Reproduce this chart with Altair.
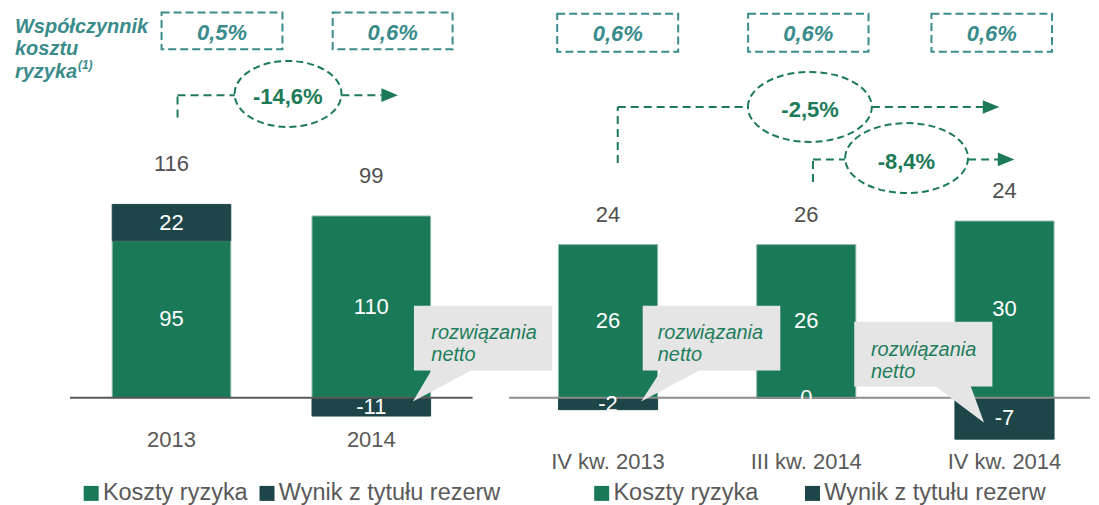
import altair as alt
import pandas as pd

# ---------------- data ----------------
years = ["2013", "2014"]
years_costs = [95, 110]
years_reserves = [22, -11]
years_totals = [116, 99]
years_ratio = ["0,5%", "0,6%"]
years_change = ["-14,6%"]

quarters = ["IV kw. 2013", "III kw. 2014", "IV kw. 2014"]
quarters_costs = [26, 26, 30]
quarters_reserves = [-2, 0, -7]
quarters_totals = [24, 26, 24]
quarters_ratio = ["0,6%", "0,6%", "0,6%"]
quarters_change = ["-2,5%", "-8,4%"]

series_names = ["Koszty ryzyka", "Wynik z tytułu rezerw"]
ratio_title = ["Współczynnik", "kosztu", "ryzyka"]
ratio_note = "(1)"
callout_lines = ["rozwiązania", "netto"]

# ---------------- styles ----------------
GREEN = "#1a7a58"
GREEN_EDGE = "#8fb9aa"
DARK = "#1e4648"
TEAL = "#3a8b8b"
ARROW = "#1c7a57"
CALLOUT_FILL = "#e5e5e5"
CALLOUT_TEXT = "#1f7d5c"
GRAY_TEXT = "#595959"
FONT = "Liberation Sans"
H = 497
ZERO = 390

one = pd.DataFrame({"k": [0]})


def stack_frame(cats, costs, reserves):
    rows = []
    for c, k, w in zip(cats, costs, reserves):
        rows.append({"cat": c, "series": series_names[0], "value": k, "lo": 0, "hi": k})
        if w > 0:
            rows.append({"cat": c, "series": series_names[1], "value": w, "lo": k, "hi": k + w})
        else:
            rows.append({"cat": c, "series": series_names[1], "value": w, "lo": w, "hi": 0})
    df = pd.DataFrame(rows)
    df["mid"] = (df["lo"] + df["hi"]) / 2
    df["label"] = df["value"].map(str)
    return df


def total_frame(cats, costs, reserves, totals):
    return pd.DataFrame({
        "cat": cats,
        "top": [k + max(w, 0) for k, w in zip(costs, reserves)],
        "total": [str(t) for t in totals],
    })


def hrule(x1, x2, y, color, dash=None, width=2):
    kw = dict(color=color, strokeWidth=width)
    if dash:
        kw["strokeDash"] = dash
    return alt.Chart(one).mark_rule(**kw).encode(x=alt.value(x1), x2=alt.value(x2), y=alt.value(y))


def vrule(x, y1, y2, color, dash=None, width=2):
    kw = dict(color=color, strokeWidth=width)
    if dash:
        kw["strokeDash"] = dash
    return alt.Chart(one).mark_rule(**kw).encode(x=alt.value(x), y=alt.value(y1), y2=alt.value(y2))


def path_mark(x, y, path, color, filled, dash=None, width=2):
    kw = dict(shape=path, size=4, filled=filled, color=color, opacity=1)
    kw["strokeWidth"] = 0 if filled else width
    if dash:
        kw["strokeDash"] = dash
    return alt.Chart(one).mark_point(**kw).encode(x=alt.value(x), y=alt.value(y))


def label(x, y, text, **kw):
    return alt.Chart(one).mark_text(text=text, font=FONT, baseline="middle", **kw).encode(
        x=alt.value(x), y=alt.value(y))


def dashed_box(x1, x2, y1, y2):
    return alt.Chart(one).mark_rect(filled=False, color=TEAL, strokeWidth=2, strokeDash=[8, 4]).encode(
        x=alt.value(x1), x2=alt.value(x2), y=alt.value(y1), y2=alt.value(y2))


def ellipse(cx, cy, rx, ry):
    p = f"M{-rx},0 A{rx},{ry} 0 1,1 {rx},0 A{rx},{ry} 0 1,1 {-rx},0 Z"
    return path_mark(cx, cy, p, ARROW, False, dash=[7, 4])


def arrow_head(cx, cy):
    return path_mark(cx, cy, "M-8.3,-6.8 L8.3,0 L-8.3,6.8 Z", ARROW, True)


def callout(x0, y0, w, h, b1, b2, tx, ty, text_x, first_line_y):
    p = f"M0,0 H{w} V{h} H{b2} L{tx},{ty} L{b1},{h} H0 Z"
    shape = path_mark(x0, y0, p, CALLOUT_FILL, True)
    txt = label(text_x, first_line_y, callout_lines, align="left", fontSize=20, fontStyle="italic",
                color=CALLOUT_TEXT, lineHeight=22)
    return [shape, txt]


def bar_layers(cats, costs, reserves, totals, xscale, yscale, legend, total_dy, cat_y):
    df = stack_frame(cats, costs, reserves)
    x = alt.X("cat:N", scale=xscale, axis=None, sort=cats)
    bars = alt.Chart(df).mark_bar(strokeWidth=1).encode(
        x=x,
        y=alt.Y("lo:Q", scale=yscale, axis=None),
        y2="hi:Q",
        color=alt.Color("series:N", scale=alt.Scale(domain=series_names, range=[GREEN, DARK]), legend=legend),
        stroke=alt.Stroke("series:N", scale=alt.Scale(domain=series_names, range=[GREEN_EDGE, DARK]), legend=None),
    )
    vals = alt.Chart(df).mark_text(color="white", fontSize=22, font=FONT, baseline="middle").encode(
        x=x, y=alt.Y("mid:Q", scale=yscale, axis=None), text="label:N")
    tdf = total_frame(cats, costs, reserves, totals)
    tots = alt.Chart(tdf).mark_text(color="#505050", fontSize=22, font=FONT, baseline="middle", dy=total_dy).encode(
        x=x, y=alt.Y("top:Q", scale=yscale, axis=None), text="total:N")
    catl = alt.Chart(pd.DataFrame({"cat": cats})).mark_text(color=GRAY_TEXT, fontSize=22, font=FONT,
                                                           baseline="middle").encode(
        x=x, y=alt.value(cat_y), text="cat:N")
    return bars, vals, tots, catl


def make_legend(lx, ly, colpad):
    return alt.Legend(title=None, orient="none", legendX=lx, legendY=ly, direction="horizontal",
                      symbolType="square", symbolSize=225, symbolStrokeWidth=0, symbolOpacity=1,
                      labelFontSize=23.5, labelFont=FONT, labelColor=GRAY_TEXT, labelLimit=400,
                      columnPadding=colpad, labelOffset=0, padding=0)


# ---------------- left panel ----------------
lx_scale = alt.Scale(domain=years, range=[104.3, 423], paddingInner=0.4065, paddingOuter=0)
ly_scale = alt.Scale(domain=[0, 100], range=[ZERO, ZERO - 165.5], nice=False, zero=False)
lb, lv, lt, lc = bar_layers(years, years_costs, years_reserves, years_totals, lx_scale, ly_scale,
                            make_legend(71.5, 473.5, 7), -40, 432)

left_layers = [
    lb,
    hrule(62, 465, ZERO, "#595959"),
    lv, lt, lc,
    label(7, 18.7, ratio_title, align="left", fontSize=20, fontWeight="bold", fontStyle="italic",
          color=TEAL, lineHeight=22.5),
    label(70, 57, ratio_note, align="left", fontSize=12, fontWeight="bold", fontStyle="italic", color=TEAL),
    dashed_box(153.7, 274.7, 4.3, 41),
    dashed_box(325, 445, 4.3, 41),
    label(214.2, 24.5, years_ratio[0], align="center", fontSize=22, fontWeight="bold", fontStyle="italic", color=TEAL),
    label(385, 24.5, years_ratio[1], align="center", fontSize=22, fontWeight="bold", fontStyle="italic", color=TEAL),
    vrule(169.7, 109.3, 87, ARROW, dash=[8, 5]),
    hrule(169.7, 227, 87, ARROW, dash=[8, 5]),
    hrule(333.7, 373.7, 87, ARROW, dash=[8, 5]),
    arrow_head(382, 87),
    ellipse(280.3, 85.8, 53.5, 33),
    label(280, 89, years_change[0], align="center", fontSize=22, fontWeight="bold", color=ARROW),
]
left_layers += callout(406.3, 297.7, 138.4, 65, 17.4, 57.4, -1, 96, 423.7, 325)
left = alt.layer(*left_layers).properties(width=492, height=H)

# ---------------- right panel ----------------
rx_scale = alt.Scale(domain=quarters, range=[59, 555], paddingInner=0.5, paddingOuter=0)
ry_scale = alt.Scale(domain=[0, 10], range=[ZERO, ZERO - 59], nice=False, zero=False)
rb, rv, rt, rc = bar_layers(quarters, quarters_costs, quarters_reserves, quarters_totals, rx_scale, ry_scale,
                            make_legend(90.5, 473.5, 42), -30, 453.7)

right_layers = [
    rb,
    hrule(9.5, 591, ZERO, "#8c8c8c"),
    rv, rt, rc,
    dashed_box(57.7, 178.8, 5.5, 43.5),
    dashed_box(248.8, 369.3, 5.5, 43.5),
    dashed_box(432.3, 553, 5.5, 43.5),
    label(118.3, 25.5, quarters_ratio[0], align="center", fontSize=22, fontWeight="bold", fontStyle="italic", color=TEAL),
    label(309, 25.5, quarters_ratio[1], align="center", fontSize=22, fontWeight="bold", fontStyle="italic", color=TEAL),
    label(492.7, 25.5, quarters_ratio[2], align="center", fontSize=22, fontWeight="bold", fontStyle="italic", color=TEAL),
    # year-on-year arrow
    vrule(118.3, 154.8, 98.8, ARROW, dash=[8, 5]),
    hrule(118.3, 248.5, 98.8, ARROW, dash=[8, 5]),
    hrule(372.7, 484, 98.8, ARROW, dash=[8, 5]),
    arrow_head(492, 98.8),
    ellipse(310.6, 98.8, 62, 35),
    label(310.8, 102, quarters_change[0], align="center", fontSize=22, fontWeight="bold", color=ARROW),
    # quarter-on-quarter arrow
    vrule(313.7, 174, 151.3, ARROW, dash=[8, 5]),
    hrule(313.7, 345.8, 151.3, ARROW, dash=[8, 5]),
    hrule(469, 499, 151.3, ARROW, dash=[8, 5]),
    arrow_head(507, 151.3),
    ellipse(407.4, 150, 61.5, 35),
    label(407.2, 153.5, quarters_change[1], align="center", fontSize=22, fontWeight="bold", color=ARROW),
]
right_layers += callout(143.3, 297.7, 137.7, 65, 18.4, 56.7, -1.6, 96, 158.3, 325.3)
right_layers += callout(355, 313.7, 138.3, 65, 81.7, 116.7, 130, 101.3, 371.7, 342)
right = alt.layer(*right_layers).properties(width=591, height=H)

chart = (
    alt.hconcat(left, right, spacing=0, bounds="flush")
    .resolve_scale(color="independent", stroke="independent")
    .resolve_legend(color="independent", stroke="independent")
    .properties(padding=0, background="white")
    .configure_view(stroke=None)
)

chart.save("out.html", embed_options={"renderer": "svg", "actions": False})
